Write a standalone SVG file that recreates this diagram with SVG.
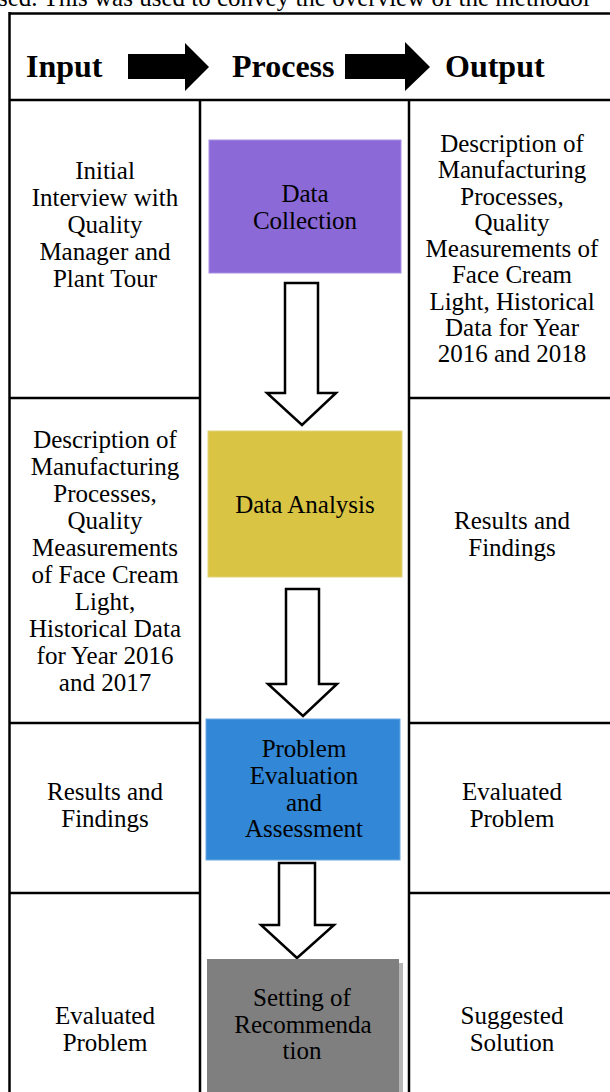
<svg xmlns="http://www.w3.org/2000/svg" width="610" height="1092" viewBox="0 0 610 1092">
<style>
  .t { font-family: "Liberation Serif", "Times New Roman", serif; font-size: 25px; fill: #000; text-anchor: middle; }
  .h { font-family: "Liberation Serif", "Times New Roman", serif; font-size: 32px; font-weight: bold; fill: #000; }
  .grid { stroke: #000; stroke-width: 2.5; fill: none; }
  .blk { stroke: #000; stroke-width: 2.5; fill: #fff; stroke-linejoin: miter; }
</style>
<rect x="0" y="0" width="610" height="1092" fill="#fff"/>
<text x="-2" y="6" class="t" style="text-anchor:start">sed. This was used to convey the overview of the methodol</text>

<g id="table">
  <line class="grid" x1="9" y1="13.5" x2="610" y2="13.5" stroke-width="3"/>
  <line class="grid" x1="9.5" y1="12" x2="9.5" y2="1092" stroke-width="3"/>
  <line class="grid" x1="9" y1="100" x2="610" y2="100"/>
  <line class="grid" x1="200" y1="100" x2="200" y2="1092"/>
  <line class="grid" x1="409" y1="100" x2="409" y2="1092"/>
  <line class="grid" x1="9" y1="398" x2="200" y2="398"/>
  <line class="grid" x1="9" y1="723" x2="200" y2="723"/>
  <line class="grid" x1="9" y1="893" x2="200" y2="893"/>
  <line class="grid" x1="409" y1="398" x2="610" y2="398"/>
  <line class="grid" x1="409" y1="723" x2="610" y2="723"/>
  <line class="grid" x1="409" y1="893" x2="610" y2="893"/>
</g>

<g id="header">
  <text x="26" y="77" class="h">Input</text>
  <text x="232" y="77" class="h">Process</text>
  <text x="445" y="77" class="h">Output</text>
</g>

<g id="connectors">
  <polygon fill="#000" points="128,54 185,54 185,43 209,67 185,91 185,79 128,79"/>
  <polygon fill="#000" points="345,54 405,54 405,42 430,67 405,91 405,79 345,79"/>
  <polygon class="blk" points="285,283 318,283 318,393 336,393 302,425 267,393 285,393"/>
  <polygon class="blk" points="286,589 319,589 319,684 337,684 303,716 268,684 286,684"/>
  <polygon class="blk" points="279,863 315,863 315,925 334,925 297,958 261,925 279,925"/>
</g>

<g id="data-collection">
  <rect x="209" y="140" width="192" height="133" fill="#8B69D6" stroke="#A890E4" stroke-width="1"/>
  <text class="t" x="305" y="202">Data</text>
  <text class="t" x="305" y="229">Collection</text>
</g>

<g id="data-analysis">
  <rect x="208" y="431" width="194" height="146" fill="#D9C444" stroke="#E3D27A" stroke-width="1"/>
  <text class="t" x="305" y="513">Data Analysis</text>
</g>

<g id="problem-evaluation">
  <rect x="206" y="719" width="194" height="141" fill="#3287D6" stroke="#6AA8E2" stroke-width="1"/>
  <text class="t" x="304" y="757">Problem</text>
  <text class="t" x="304" y="784">Evaluation</text>
  <text class="t" x="304" y="811">and</text>
  <text class="t" x="304" y="837">Assessment</text>
</g>

<g id="setting-recommendation">
  <rect x="210" y="963" width="193" height="140" fill="#B5B5B5"/>
  <rect x="207" y="959" width="192" height="140" fill="#7F7F7F"/>
  <text class="t" x="302" y="1006">Setting of</text>
  <text class="t" x="303" y="1033">Recommenda</text>
  <text class="t" x="302" y="1059">tion</text>
</g>

<g id="input-1">
  <text class="t" x="105" y="179">Initial</text>
  <text class="t" x="105" y="206">Interview with</text>
  <text class="t" x="105" y="233">Quality</text>
  <text class="t" x="105" y="260">Manager and</text>
  <text class="t" x="105" y="287">Plant Tour</text>
</g>

<g id="input-2">
  <text class="t" x="105" y="448">Description of</text>
  <text class="t" x="105" y="475">Manufacturing</text>
  <text class="t" x="105" y="502">Processes,</text>
  <text class="t" x="105" y="529">Quality</text>
  <text class="t" x="105" y="556">Measurements</text>
  <text class="t" x="105" y="583">of Face Cream</text>
  <text class="t" x="105" y="610">Light,</text>
  <text class="t" x="105" y="637">Historical Data</text>
  <text class="t" x="105" y="664">for Year 2016</text>
  <text class="t" x="105" y="691">and 2017</text>
</g>

<g id="input-3">
  <text class="t" x="105" y="800">Results and</text>
  <text class="t" x="105" y="827">Findings</text>
</g>

<g id="input-4">
  <text class="t" x="105" y="1024">Evaluated</text>
  <text class="t" x="105" y="1051">Problem</text>
</g>

<g id="output-1">
  <text class="t" x="512" y="152">Description of</text>
  <text class="t" x="512" y="178">Manufacturing</text>
  <text class="t" x="512" y="205">Processes,</text>
  <text class="t" x="512" y="231">Quality</text>
  <text class="t" x="512" y="257">Measurements of</text>
  <text class="t" x="512" y="283">Face Cream</text>
  <text class="t" x="512" y="310">Light, Historical</text>
  <text class="t" x="512" y="336">Data for Year</text>
  <text class="t" x="512" y="362">2016 and 2018</text>
</g>

<g id="output-2">
  <text class="t" x="512" y="529">Results and</text>
  <text class="t" x="512" y="556">Findings</text>
</g>

<g id="output-3">
  <text class="t" x="512" y="800">Evaluated</text>
  <text class="t" x="512" y="827">Problem</text>
</g>

<g id="output-4">
  <text class="t" x="512" y="1024">Suggested</text>
  <text class="t" x="512" y="1051">Solution</text>
</g>
</svg>
